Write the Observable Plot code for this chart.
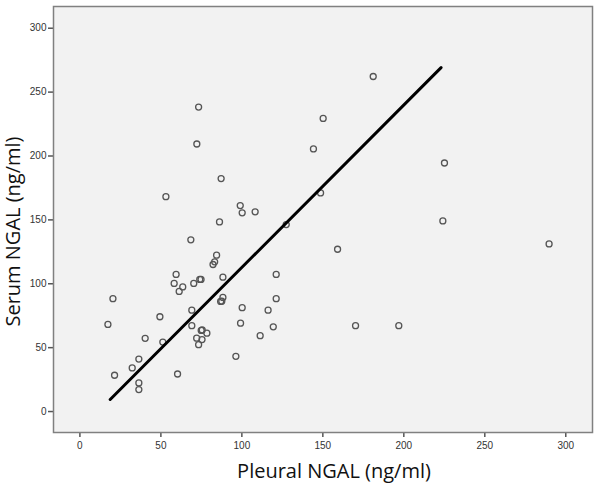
<!DOCTYPE html>
<html>
<head>
<meta charset="utf-8">
<script src="https://cdn.jsdelivr.net/npm/d3@7"></script>
<script src="https://cdn.jsdelivr.net/npm/@observablehq/plot@0.6"></script>
<style>
  html, body { margin: 0; padding: 0; background: #ffffff; }
  #chart { width: 600px; height: 483px; }
</style>
</head>
<body>
<div id="chart"></div>
<script>
// Pleural NGAL (x) vs Serum NGAL (y), ng/ml
const pleural = [17.3, 20.4, 21.4, 32.3, 36.4, 36.4, 36.4, 40.3, 49.4, 51.2,
  53.1, 59.4, 58.2, 63.5, 61.3, 60.3, 68.5, 70.3, 69.1, 69.1,
  72.2, 73.3, 74.0, 74.8, 72.1, 73.3, 74.9, 75.5, 75.4, 78.4,
  82.2, 83.2, 84.4, 86.2, 87.2, 88.3, 88.3, 86.9, 87.6, 96.3,
  99.0, 100.2, 100.2, 99.2, 108.2, 111.3, 116.2, 119.4, 121.2, 121.2,
  127.4, 144.2, 148.6, 150.2, 159.1, 170.2, 181.1, 196.9, 224.1, 225.1, 289.7];
const serum = [68.2, 88.3, 28.4, 34.1, 41.1, 22.4, 17.2, 57.3, 74.2, 54.4,
  168.2, 107.3, 100.3, 97.5, 94.0, 29.4, 134.4, 100.3, 79.3, 67.2,
  209.4, 238.3, 103.4, 103.4, 57.4, 52.3, 63.5, 63.8, 56.3, 61.3,
  115.1, 117.2, 122.4, 148.4, 182.3, 105.2, 89.3, 86.2, 86.4, 43.2,
  161.2, 155.5, 81.3, 69.2, 156.3, 59.4, 79.3, 66.3, 107.3, 88.3,
  146.3, 205.5, 171.1, 229.4, 127.0, 67.2, 262.2, 67.2, 149.2, 194.5, 131.2];
// Fit line endpoints (as drawn in the figure)
const fitX = [18.7, 223.0];
const fitY = [9.4, 269.2];
const xTicks = [0, 50, 100, 150, 200, 250, 300];
const yTicks = [0, 50, 100, 150, 200, 250, 300];
const xLabel = "Pleural NGAL (ng/ml)";
const yLabel = "Serum NGAL (ng/ml)";

const points = pleural.map((x, i) => ({x, y: serum[i]}));
const fit = fitX.map((x, i) => ({x, y: fitY[i]}));

const chart = Plot.plot({
  width: 600,
  height: 483,
  marginLeft: 53,
  marginRight: 8,
  marginTop: 6,
  marginBottom: 51,
  style: {background: "#ffffff", fontFamily: "Liberation Sans, Arial, sans-serif"},
  x: {domain: [-16.3, 316.5], ticks: xTicks, label: null},
  y: {domain: [-16.4, 317], ticks: yTicks, label: null},
  marks: [
    Plot.frame({fill: "#f2f2f2", stroke: null}),
    Plot.axisX({ticks: xTicks, tickSize: 5, tickPadding: 4, fontSize: 10, stroke: "#555", color: "#333", strokeWidth: 1.5, label: null}),
    Plot.axisY({ticks: yTicks, tickSize: 5, tickPadding: 2, fontSize: 10, stroke: "#555", color: "#333", strokeWidth: 1.5, label: null}),
    Plot.dot(points, {x: "x", y: "y", r: 3, stroke: "#555", strokeWidth: 1.3, fill: "none"}),
    Plot.line(fit, {x: "x", y: "y", stroke: "#000", strokeWidth: 3}),
    Plot.frame({stroke: "#808080", strokeWidth: 1.5}),
    Plot.text([xLabel], {frameAnchor: "bottom", dy: 39, dx: 11, fontSize: 20, fill: "#111",
      fontFamily: "Open Sans, sans-serif", lineAnchor: "middle", textAnchor: "middle"}),
    Plot.text([yLabel], {frameAnchor: "left", dx: -40, dy: 12, rotate: -90, fontSize: 20, fill: "#111",
      fontFamily: "Open Sans, sans-serif", lineAnchor: "middle", textAnchor: "middle"})
  ]
});
document.getElementById("chart").append(chart);
</script>
</body>
</html>
